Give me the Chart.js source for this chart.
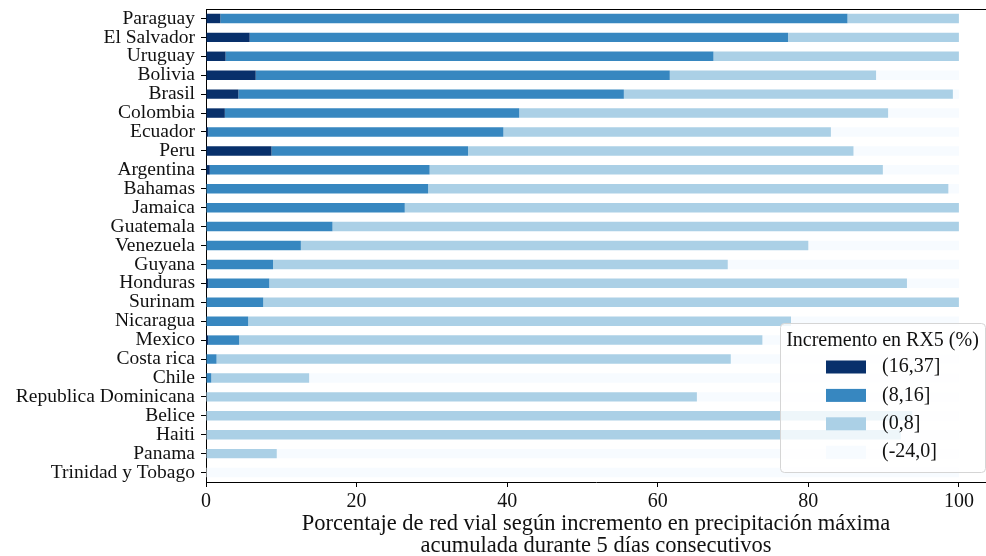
<!DOCTYPE html>
<html>
<head>
<meta charset="utf-8">
<script src="https://cdn.jsdelivr.net/npm/chart.js@4.4.1/dist/chart.umd.min.js"></script>
<style>
  html, body { margin: 0; padding: 0; background: #fff; }
  #wrap { width: 986px; height: 556px; position: relative; }
</style>
</head>
<body>
<div id="wrap"><canvas id="chart"></canvas></div>
<script>
const paises = [
  'Paraguay', 'El Salvador', 'Uruguay', 'Bolivia', 'Brasil', 'Colombia', 'Ecuador',
  'Peru', 'Argentina', 'Bahamas', 'Jamaica', 'Guatemala', 'Venezuela', 'Guyana',
  'Honduras', 'Surinam', 'Nicaragua', 'Mexico', 'Costa rica', 'Chile',
  'Republica Dominicana', 'Belice', 'Haiti', 'Panama', 'Trinidad y Tobago'
]

const rangos = ['(16,37]', '(8,16]', '(0,8]', '(-24,0]']
const colores = ['#08306b', '#3787c0', '#abd0e6', '#f7fbff']

// % de red vial en cada rango de incremento de RX5
const rango16a37 = [1.9, 5.8, 2.6, 6.6, 4.3, 2.5, 0.3, 8.7, 0.5, 0, 0, 0, 0, 0, 0.3, 0, 0, 0.3, 0, 0, 0, 0, 0, 0, 0]
const rango8a16 = [83.3, 71.5, 64.8, 55.0, 51.2, 39.1, 39.2, 26.1, 29.2, 29.5, 26.4, 16.8, 12.6, 8.9, 8.1, 7.6, 5.6, 4.1, 1.4, 0.7, 0, 0, 0, 0, 0]
const rango0a8 = [14.8, 22.7, 32.6, 27.4, 43.7, 49.0, 43.5, 51.2, 60.2, 69.1, 73.6, 83.2, 67.4, 60.4, 84.7, 92.4, 72.1, 69.5, 68.3, 13.0, 65.2, 93.8, 92.3, 9.4, 0]
const rangoNeg = [0, 0, 0, 11.0, 0.8, 9.4, 17.0, 14.0, 10.1, 1.4, 0, 0, 20.0, 30.7, 6.9, 0, 22.3, 26.1, 30.3, 86.3, 34.8, 6.2, 7.7, 90.6, 100]

const xTicks = [0, 20, 40, 60, 80, 100]
const xMax = 103.6
const tituloX = [
  'Porcentaje de red vial según incremento en precipitación máxima',
  'acumulada durante 5 días consecutivos'
]
const tituloLeyenda = 'Incremento en RX5 (%)'

const FAMILIA = "'Liberation Serif', 'DejaVu Serif', serif"
const TAM = 19.5

// línea superior del marco
const marcoSuperior = {
  id: 'marcoSuperior',
  afterDatasetsDraw(chart) {
    const { ctx, chartArea } = chart
    ctx.save()
    ctx.strokeStyle = '#000'
    ctx.lineWidth = 1
    ctx.beginPath()
    ctx.moveTo(chartArea.left, chartArea.top + 0.5)
    ctx.lineTo(chartArea.right, chartArea.top + 0.5)
    ctx.stroke()
    ctx.restore()
  }
}

// leyenda dentro del área del gráfico, abajo a la derecha
const leyenda = {
  id: 'leyenda',
  afterDraw(chart) {
    const { ctx, chartArea } = chart
    const w = 205, h = 149
    const x0 = chartArea.right - w - 1
    const y0 = chartArea.bottom - h - 10
    ctx.save()
    ctx.beginPath()
    ctx.roundRect(x0 + 0.5, y0 + 0.5, w, h, 4)
    ctx.fillStyle = 'rgba(255,255,255,0.8)'
    ctx.fill()
    ctx.strokeStyle = '#d5d5d5'
    ctx.lineWidth = 1
    ctx.stroke()

    ctx.font = `20px ${FAMILIA}`
    ctx.fillStyle = '#111'
    ctx.textBaseline = 'middle'
    ctx.textAlign = 'center'
    ctx.fillText(tituloLeyenda, x0 + w / 2, y0 + 18)

    chart.data.datasets.forEach((ds, i) => {
      const y = y0 + 44 + i * 28.4
      ctx.fillStyle = ds.backgroundColor
      ctx.fillRect(x0 + 46, y - 6.5, 40, 13)
      ctx.fillStyle = '#111'
      ctx.textAlign = 'left'
      ctx.fillText(ds.label, x0 + 102, y)
    })
    ctx.restore()
  }
}

const series = [rango16a37, rango8a16, rango0a8, rangoNeg]

new Chart(document.getElementById('chart'), {
  type: 'bar',
  data: {
    labels: paises,
    datasets: series.map((valores, i) => ({
      label: rangos[i],
      data: valores,
      backgroundColor: colores[i],
      borderWidth: 0,
      barPercentage: 0.5,
      categoryPercentage: 1.0,
    })),
  },
  options: {
    indexAxis: 'y',
    responsive: true,
    maintainAspectRatio: false,
    animation: false,
    layout: { padding: { top: 9, right: 0, bottom: 0, left: 0 } },
    plugins: {
      legend: { display: false },
      tooltip: { enabled: false },
    },
    scales: {
      x: {
        stacked: true,
        min: 0,
        max: xMax,
        afterBuildTicks: scale => { scale.ticks = xTicks.map(v => ({ value: v })) },
        afterFit: scale => { scale.height = 74; scale.paddingLeft = 0; scale.paddingRight = 0 },
        border: { display: true, color: '#000', width: 1 },
        grid: { display: true, drawOnChartArea: false, drawTicks: true, tickLength: 5, color: '#000' },
        ticks: {
          color: '#111',
          padding: 3,
          maxRotation: 0,
          font: { family: FAMILIA, size: 20 },
        },
        title: {
          display: true,
          text: tituloX,
          color: '#111',
          padding: { top: 0, bottom: -1.5 },
          font: { family: FAMILIA, size: 22.5, lineHeight: 1.0 },
        },
      },
      y: {
        stacked: true,
        afterFit: scale => { scale.width = 206; scale.paddingTop = 0; scale.paddingBottom = 0 },
        border: { display: true, color: '#000', width: 1 },
        grid: { display: true, offset: false, drawOnChartArea: false, drawTicks: true, tickLength: 5, color: '#000' },
        ticks: {
          color: '#111',
          padding: 6,
          autoSkip: false,
          font: { family: FAMILIA, size: TAM },
        },
      },
    },
  },
  plugins: [marcoSuperior, leyenda],
})
</script>
</body>
</html>
